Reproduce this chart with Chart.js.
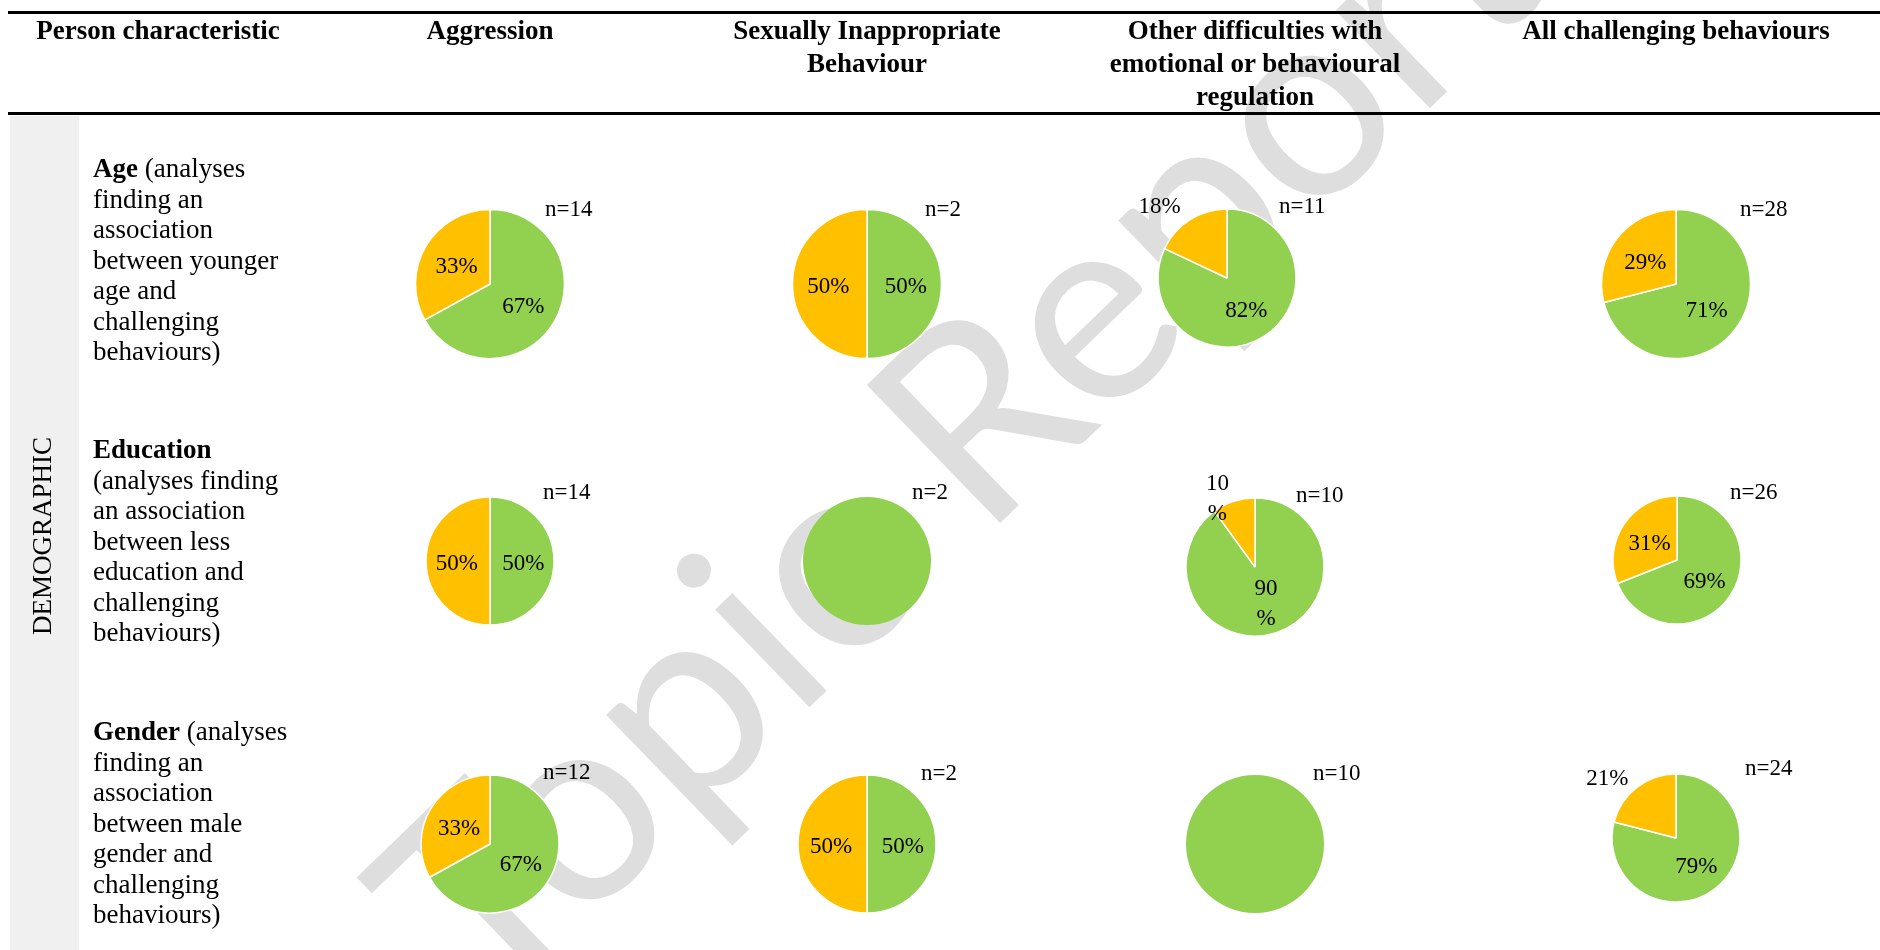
<!DOCTYPE html>
<html>
<head>
<meta charset="utf-8">
<script src="https://cdn.jsdelivr.net/npm/chart.js"></script>
<style>
  body { margin: 0; background: #fff; }
  #page { position: relative; width: 1880px; height: 950px; overflow: hidden; background: #fff;
          font-family: "Liberation Serif", "Times New Roman", serif; color: #000; }
  .rule { position: absolute; left: 8px; right: 0; height: 3px; background: #000; z-index: 3; }
  .head { position: absolute; top: 14px; font-weight: bold; font-size: 27px; line-height: 33px;
          text-align: center; transform: translateX(-50%); white-space: nowrap; z-index: 3; }
  .side { position: absolute; left: 10px; top: 116px; width: 69px; bottom: 0; background: #f0f0f0; }
  .group { position: absolute; left: 42px; top: 536px; transform: translate(-50%, -50%) rotate(-90deg);
           font-size: 27px; white-space: nowrap; z-index: 3; }
  .desc { position: absolute; left: 93px; font-size: 27px; line-height: 30.5px; white-space: nowrap; z-index: 3; }
  .nlab { position: absolute; font-size: 23px; line-height: 26px; white-space: nowrap; z-index: 3; }
  canvas.pie { position: absolute; z-index: 2; }
  #mark { position: absolute; left: 0; top: 0; z-index: 1; }
</style>
</head>
<body>
<div id="page">
  <div class="side"></div>
  <canvas id="mark" width="1880" height="950"></canvas>
  <div class="rule" style="top:11px"></div>
  <div class="rule" style="top:112px"></div>
  <div class="group">DEMOGRAPHIC</div>
</div>

<script>
// colonnes (types de comportement)
const behaviours = [
  ['Aggression'],
  ['Sexually Inappropriate', 'Behaviour'],
  ['Other difficulties with', 'emotional or behavioural', 'regulation'],
  ['All challenging behaviours']
];

// lignes (caracteristiques)
const characteristics = ['Age', 'Education', 'Gender'];
const descriptions = [
  [' (analyses', 'finding an', 'association', 'between younger', 'age and', 'challenging', 'behaviours)'],
  ['', '(analyses finding', 'an association', 'between less', 'education and', 'challenging', 'behaviours)'],
  [' (analyses', 'finding an', 'association', 'between male', 'gender and', 'challenging', 'behaviours)']
];

// % d'analyses trouvant une association (vert) / n'en trouvant pas (orange)
const ageFound = [67, 50, 82, 71];
const ageNotFound = [33, 50, 18, 29];
const educationFound = [50, 100, 90, 69];
const educationNotFound = [50, 0, 10, 31];
const genderFound = [67, 50, 100, 79];
const genderNotFound = [33, 50, 0, 21];

// nombre d'analyses
const ageN = [14, 2, 11, 28];
const educationN = [14, 2, 10, 26];
const genderN = [12, 2, 10, 24];

const found = [ageFound, educationFound, genderFound];
const notFound = [ageNotFound, educationNotFound, genderNotFound];
const counts = [ageN, educationN, genderN];

// mise en page
const colCentres = [490, 867, 1255, 1676];
const descTops = [153, 434, 716];
const pieBoxes = [
  [[490, 283.5, 74.5], [867, 283.5, 74.5], [1227, 278, 69], [1676, 283.5, 74.5]],
  [[490, 561, 64], [867, 561, 64], [1255, 567, 69], [1677, 560, 64]],
  [[490, 844, 69], [867, 844, 69], [1255, 844, 69], [1676, 838, 64]]
];
const nPos = [
  [[545, 209], [925, 209], [1279, 206], [1740, 209]],
  [[543, 492], [912, 492], [1296, 495], [1730, 492]],
  [[543, 772], [921, 773], [1313, 773], [1745, 768]]
];
const GREEN = '#92D050';
const ORANGE = '#FFC000';

const page = document.getElementById('page');

function addDiv(cls, html, style) {
  const d = document.createElement('div');
  d.className = cls;
  d.innerHTML = html;
  Object.assign(d.style, style);
  page.appendChild(d);
  return d;
}

// en-tetes
addDiv('head', 'Person characteristic', { left: '158px' });
behaviours.forEach((lines, i) => {
  addDiv('head', lines.join('<br>'), { left: colCentres[i] + 'px' });
});

// textes de gauche
characteristics.forEach((name, i) => {
  const lines = descriptions[i].slice();
  lines[0] = '<b>' + name + '</b>' + lines[0];
  addDiv('desc', lines.join('<br>'), { top: descTops[i] + 'px' });
});

// filigrane
const mk = document.getElementById('mark').getContext('2d');
mk.font = '268px Lato';
mk.fillStyle = '#dedede';
mk.translate(818, 699);
mk.rotate(-44 * Math.PI / 180);
const pre = mk.measureText('Top').width + mk.measureText('i').width / 2;
mk.fillText('Topic Report', -pre, 0);

// etiquettes de pourcentage
const pieLabels = {
  id: 'pieLabels',
  afterDatasetsDraw(chart, args, opts) {
    const ctx = chart.ctx;
    const values = chart.data.datasets[0].data;
    const total = values.reduce((a, b) => a + b, 0);
    ctx.save();
    ctx.font = '23px "Liberation Serif"';
    ctx.fillStyle = '#000';
    ctx.textAlign = 'center';
    ctx.textBaseline = 'middle';
    chart.getDatasetMeta(0).data.forEach((arc, i) => {
      const v = values[i];
      if (v === 0 || v === total) return;
      let mid = (arc.startAngle + arc.endAngle) / 2;
      let f = 0.52;
      if (v < 25) {
        // petites parts : etiquette a l'exterieur
        mid -= 10 * Math.PI / 180;
        f = opts.wrap ? 1.16 : 1.45;
      }
      const x = arc.x + Math.cos(mid) * arc.outerRadius * f;
      const y = arc.y + Math.sin(mid) * arc.outerRadius * f + 3;
      if (opts.wrap) {
        ctx.fillText(String(v), x, y - 15);
        ctx.fillText('%', x, y + 15);
      } else {
        ctx.fillText(v + '%', x, y);
      }
    });
    ctx.restore();
  }
};

found.forEach((row, ri) => {
  row.forEach((v, ci) => {
    const [cx, cy, r] = pieBoxes[ri][ci];
    const cv = document.createElement('canvas');
    cv.className = 'pie';
    cv.width = 300;
    cv.height = 280;
    cv.style.left = (cx - 150) + 'px';
    cv.style.top = (cy - 140) + 'px';
    page.appendChild(cv);

    const data = [v, notFound[ri][ci]];
    const full = data.includes(0);
    new Chart(cv, {
      type: 'pie',
      data: {
        labels: ['Association', 'No association'],
        datasets: [{
          data: data,
          backgroundColor: [GREEN, ORANGE],
          borderColor: '#ffffff',
          borderWidth: full ? 0 : 1.5,
          radius: r
        }]
      },
      options: {
        responsive: false,
        animation: false,
        layout: { padding: 0 },
        plugins: {
          legend: { display: false },
          tooltip: { enabled: false },
          pieLabels: { wrap: ri === 1 && ci === 2 }
        }
      },
      plugins: [pieLabels]
    });

    const [nx, ny] = nPos[ri][ci];
    addDiv('nlab', 'n=' + counts[ri][ci], { left: nx + 'px', top: (ny - 13) + 'px' });
  });
});
</script>
</body>
</html>
